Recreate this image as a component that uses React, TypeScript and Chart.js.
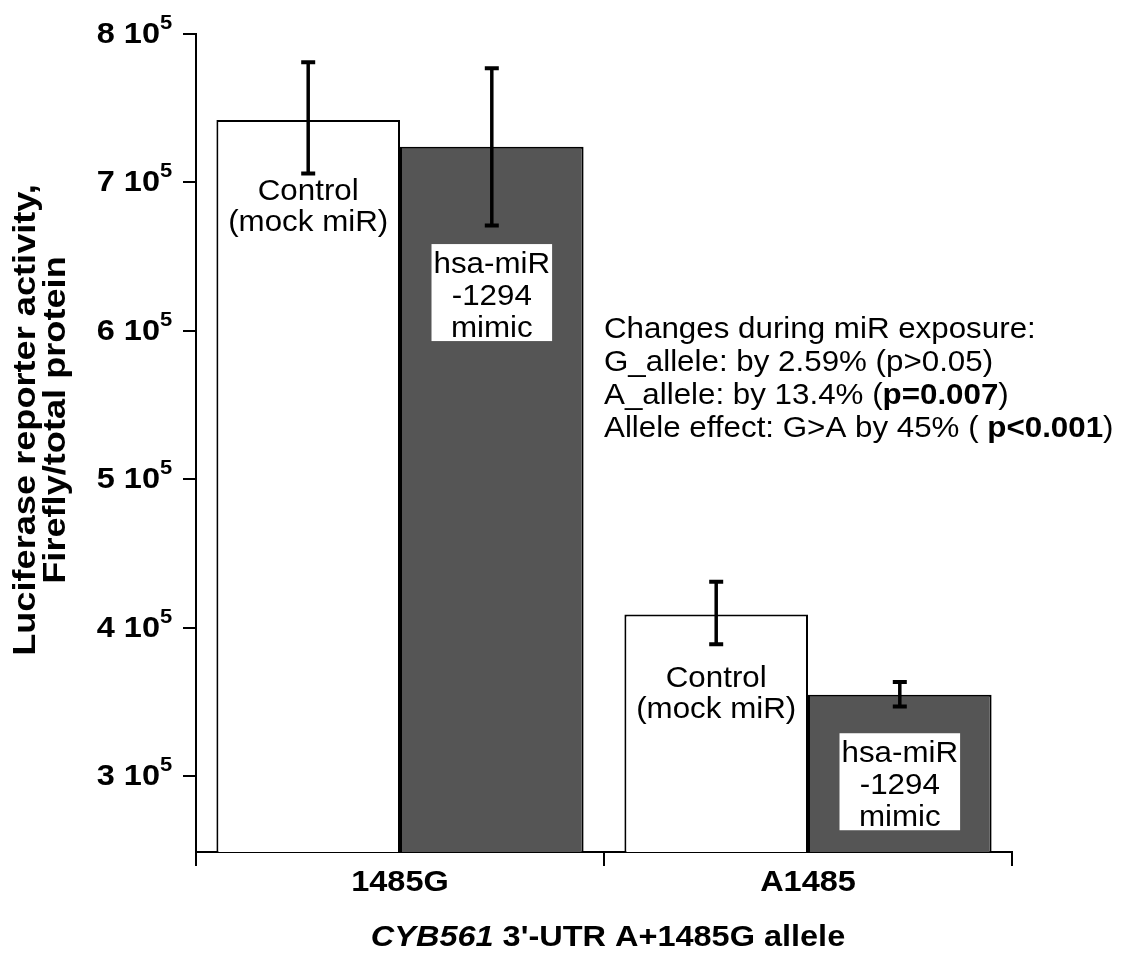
import React, { useEffect, useRef } from "react";
import { Chart, registerables } from "chart.js";

Chart.register(...registerables);

// ---------- data ----------
const categories = ["1485G", "A1485"];
const controlValues = [7.42e5, 4.09e5];
const controlErrHigh = [7.81e5, 4.31e5];
const controlErrLow = [7.06e5, 3.89e5];
const mimicValues = [7.24e5, 3.55e5];
const mimicErrHigh = [7.77e5, 3.635e5];
const mimicErrLow = [6.71e5, 3.47e5];
const yTickValues = [3e5, 4e5, 5e5, 6e5, 7e5, 8e5];
const yMin = 2.49e5;
const yMax = 8e5;

const controlLabel = ["Control", "(mock miR)"];
const mimicLabel = ["hsa-miR", "-1294", "mimic"];
const controlLabelY = [6.88e5, 3.6e5];
const mimicBoxTopY = [6.585e5, 3.29e5];

const yTitleLines = ["Luciferase reporter activity,", "Firefly/total protein"];
const xTitleItalic = "CYB561";
const xTitleRest = " 3'-UTR A+1485G allele";

type Run = { t: string; b?: boolean; i?: boolean };
const noteLines: Run[][] = [
  [{ t: "Changes during miR exposure:" }],
  [{ t: "G_allele: by 2.59% (p>0.05)" }],
  [{ t: "A_allele: by 13.4% (" }, { t: "p=0.007", b: true }, { t: ")" }],
  [{ t: "Allele effect: G>A by 45% ( " }, { t: "p<0.001", b: true }, { t: ")" }],
];
const noteY = 5.95e5;

// ---------- drawing helpers ----------
const FONT = '"Liberation Sans", Arial, Helvetica, sans-serif';
const TXT = 29;
const SX = 1.08;
const BOLD = 29;
const BSX = 1.12;

function font(size: number, bold?: boolean, italic?: boolean) {
  return `${italic ? "italic " : ""}${bold ? "bold " : ""}${size}px ${FONT}`;
}

function drawRuns(
  ctx: CanvasRenderingContext2D,
  runs: Run[],
  x: number,
  y: number,
  size: number,
  align: "left" | "center" | "right",
  sx: number = SX
) {
  const widths = runs.map((r) => {
    ctx.font = font(size, r.b, r.i);
    return ctx.measureText(r.t).width * sx;
  });
  const total = widths.reduce((a, b) => a + b, 0);
  let cx = align === "left" ? x : align === "center" ? x - total / 2 : x - total;
  runs.forEach((r, k) => {
    ctx.save();
    ctx.font = font(size, r.b, r.i);
    ctx.fillStyle = "#000";
    ctx.textAlign = "left";
    ctx.textBaseline = "alphabetic";
    ctx.translate(cx, y);
    ctx.scale(sx, 1);
    ctx.fillText(r.t, 0, 0);
    ctx.restore();
    cx += widths[k];
  });
  return total;
}

const annotPlugin = {
  id: "annot",
  afterDraw(chart: any) {
    const ctx: CanvasRenderingContext2D = chart.ctx;
    const xs = chart.scales.x;
    const ys = chart.scales.y;
    const area = chart.chartArea;

    // error bars
    const highs = [controlErrHigh, mimicErrHigh];
    const lows = [controlErrLow, mimicErrLow];
    ctx.save();
    ctx.strokeStyle = "#000";
    [0, 1].forEach((d) => {
      const meta = chart.getDatasetMeta(d);
      meta.data.forEach((el: any, i: number) => {
        const yh = ys.getPixelForValue(highs[d][i]);
        const yl = ys.getPixelForValue(lows[d][i]);
        ctx.lineWidth = 3.5;
        ctx.beginPath();
        ctx.moveTo(el.x, yh);
        ctx.lineTo(el.x, yl);
        ctx.stroke();
        ctx.lineWidth = 4;
        ctx.beginPath();
        ctx.moveTo(el.x - 7, yh);
        ctx.lineTo(el.x + 7, yh);
        ctx.moveTo(el.x - 7, yl);
        ctx.lineTo(el.x + 7, yl);
        ctx.stroke();
      });
    });
    ctx.restore();

    // control labels
    const cMeta = chart.getDatasetMeta(0);
    cMeta.data.forEach((el: any, i: number) => {
      const by = ys.getPixelForValue(controlLabelY[i]);
      controlLabel.forEach((line, k) => {
        drawRuns(ctx, [{ t: line }], el.x, by + k * 31, TXT, "center");
      });
    });

    // mimic boxes
    const mMeta = chart.getDatasetMeta(1);
    mMeta.data.forEach((el: any, i: number) => {
      const top = ys.getPixelForValue(mimicBoxTopY[i]);
      ctx.font = font(TXT);
      const w = Math.max(...mimicLabel.map((l) => ctx.measureText(l).width * SX)) + 4;
      ctx.fillStyle = "#fff";
      ctx.fillRect(el.x - w / 2, top, w, 97);
      mimicLabel.forEach((line, k) => {
        drawRuns(ctx, [{ t: line }], el.x, top + 29 + k * 32, TXT, "center");
      });
    });

    // note block
    const nx = (xs.getPixelForValue(0) + xs.getPixelForValue(1)) / 2;
    const ny = ys.getPixelForValue(noteY);
    noteLines.forEach((runs, k) => {
      drawRuns(ctx, runs, nx, ny + k * 33, TXT, "left");
    });

    // y tick labels
    yTickValues.forEach((v) => {
      const py = ys.getPixelForValue(v);
      const mant = String(Math.round(v / 1e5));
      const rx = area.left - 36;
      drawRuns(ctx, [{ t: mant + " 10", b: true }], rx, py + 9, BOLD, "right", BSX);
      drawRuns(ctx, [{ t: "5", b: true }], rx, py - 5, 20, "left", 1.1);
    });

    // x tick labels
    categories.forEach((c, i) => {
      drawRuns(ctx, [{ t: c, b: true }], xs.getPixelForValue(i), area.bottom + 39, BOLD, "center", BSX);
    });

    // x title
    drawRuns(
      ctx,
      [
        { t: xTitleItalic, b: true, i: true },
        { t: xTitleRest, b: true },
      ],
      (area.left + area.right) / 2 + 4,
      area.bottom + 94,
      BOLD,
      "center",
      BSX
    );

    // y title (rotated)
    const cy = (area.top + area.bottom) / 2 - 23;
    const baseXs = [35, 65];
    yTitleLines.forEach((line, k) => {
      ctx.save();
      ctx.translate(baseXs[k], cy);
      ctx.rotate(-Math.PI / 2);
      drawRuns(ctx, [{ t: line, b: true }], 0, 0, 32, "center", 1.13);
      ctx.restore();
    });
  },
};

export default function App() {
  const ref = useRef<HTMLCanvasElement | null>(null);

  useEffect(() => {
    if (!ref.current) return;
    const chart = new Chart(ref.current, {
      type: "bar",
      data: {
        labels: categories,
        datasets: [
          {
            label: "Control (mock miR)",
            data: controlValues,
            backgroundColor: "#ffffff",
            borderColor: "#000000",
            borderWidth: 2,
            categoryPercentage: 0.9,
            barPercentage: 1.0,
          },
          {
            label: "hsa-miR-1294 mimic",
            data: mimicValues,
            backgroundColor: "#555555",
            borderColor: "#000000",
            borderWidth: 2,
            categoryPercentage: 0.9,
            barPercentage: 1.0,
          },
        ],
      },
      options: {
        animation: false,
        responsive: false,
        maintainAspectRatio: false,
        devicePixelRatio: 1,
        layout: { padding: { left: 0, right: 109, top: 34, bottom: 0 } },
        plugins: {
          legend: { display: false },
          tooltip: { enabled: false },
          title: { display: false },
        },
        scales: {
          x: {
            grid: {
              display: true,
              drawOnChartArea: false,
              drawTicks: true,
              tickLength: 14,
              color: "#000",
              lineWidth: 2,
              offset: true,
            },
            border: { display: true, color: "#000", width: 2 },
            ticks: { display: false },
            afterFit: (s: any) => {
              s.height = 102;
            },
          },
          y: {
            min: yMin,
            max: yMax,
            afterBuildTicks: (s: any) => {
              s.ticks = yTickValues.map((v) => ({ value: v }));
            },
            grid: {
              display: true,
              drawOnChartArea: false,
              drawTicks: true,
              tickLength: 13,
              color: "#000",
              lineWidth: 2,
            },
            border: { display: true, color: "#000", width: 2 },
            ticks: { display: false },
            afterFit: (s: any) => {
              s.width = 196;
            },
          },
        },
      } as any,
      plugins: [annotPlugin],
    });
    return () => chart.destroy();
  }, []);

  return (
    <div
      style={{
        position: "absolute",
        left: 0,
        top: 0,
        width: 1121,
        height: 954,
        background: "#ffffff",
      }}
    >
      <canvas ref={ref} width={1121} height={954} style={{ display: "block" }} />
    </div>
  );
}
